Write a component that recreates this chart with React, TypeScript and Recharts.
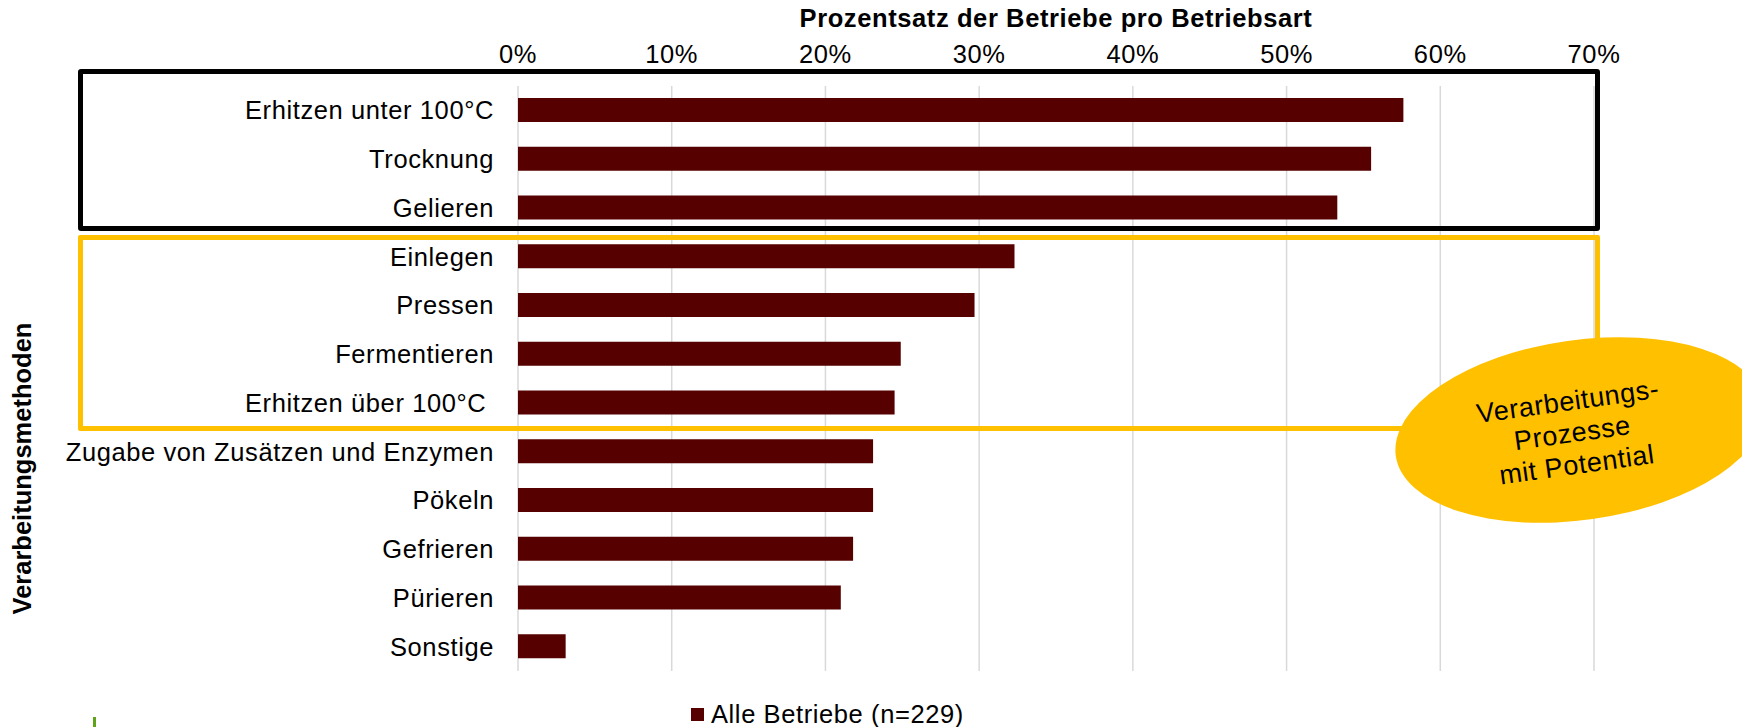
import React from 'react'
import { Bar, BarChart, CartesianGrid, Legend, XAxis, YAxis } from 'recharts'

// Verarbeitungsmethoden, von oben nach unten
const categories = [
  'Erhitzen unter 100°C',
  'Trocknung',
  'Gelieren',
  'Einlegen',
  'Pressen',
  'Fermentieren',
  'Erhitzen über 100°C\u00A0',
  'Zugabe von Zusätzen und Enzymen',
  'Pökeln',
  'Gefrieren',
  'Pürieren',
  'Sonstige',
]

// Prozentsatz aller Betriebe (n=229)
const alleBetriebe = [57.6, 55.5, 53.3, 32.3, 29.7, 24.9, 24.5, 23.1, 23.1, 21.8, 21.0, 3.1]

const xTicks = [0, 10, 20, 30, 40, 50, 60, 70]

const seriesName = 'Alle Betriebe (n=229)'
const xTitle = 'Prozentsatz der Betriebe pro Betriebsart'
const yTitle = 'Verarbeitungsmethoden'
const calloutLines = ['Verarbeitungs-', 'Prozesse', 'mit Potential']

const data = categories.map((name, i) => ({ name, value: alleBetriebe[i] }))

const FONT = '"Liberation Sans", Arial, sans-serif'
const FS = 25.5
const BAR_COLOR = '#560000'
const GOLD = '#FFC000'

const LegendContent = ({ payload }: any) => (
  <div style={{ display: 'flex', alignItems: 'center', fontFamily: FONT, fontSize: FS, letterSpacing: 0.6, color: '#000' }}>
    {(payload || []).map((entry: any) => (
      <div key={entry.value} style={{ display: 'flex', alignItems: 'center' }}>
        <span style={{ display: 'inline-block', width: 13, height: 13, background: BAR_COLOR, marginRight: 7 }} />
        <span style={{ lineHeight: '26px', whiteSpace: 'nowrap' }}>{entry.value}</span>
      </div>
    ))}
  </div>
)

const YTitle = ({ viewBox }: any) => {
  const x = viewBox.x + 31
  const y = viewBox.y + viewBox.height / 2 + 90
  return (
    <text
      x={x}
      y={y}
      transform={`rotate(-90 ${x} ${y})`}
      textAnchor="middle"
      fontFamily={FONT}
      fontSize={FS}
      fontWeight="bold"
      fill="#000"
      style={{ letterSpacing: '0px' }}
    >
      {yTitle}
    </text>
  )
}

export default function App() {
  return (
    <div style={{ position: 'absolute', left: 0, top: 0, width: 1742, height: 727, background: '#fff' }}>
      <style>{`.chart-wrap text { letter-spacing: 0.6px; }`}</style>
      <div className="chart-wrap" style={{ position: 'absolute', left: 0, top: 0 }}>
        <BarChart
          width={1742}
          height={727}
          data={data}
          layout="vertical"
          margin={{ top: 0, right: 148, bottom: 56, left: 0 }}
        >
          <CartesianGrid horizontal={false} stroke="#d9d9d9" strokeWidth={1.5} />
          <XAxis
            type="number"
            orientation="top"
            domain={[0, 70]}
            ticks={xTicks}
            tickFormatter={(v: number) => `${v}%`}
            axisLine={false}
            tickLine={false}
            tickSize={0}
            tickMargin={23}
            height={86}
            tick={{ fontSize: FS, fill: '#000', fontFamily: FONT }}
            label={{
              value: xTitle,
              position: 'insideTop',
              offset: 9,
              fontSize: FS,
              fontWeight: 'bold',
              fill: '#000',
              fontFamily: FONT,
            }}
          />
          <YAxis
            type="category"
            dataKey="name"
            width={518}
            interval={0}
            axisLine={false}
            tickLine={false}
            tickSize={0}
            tickMargin={24}
            tick={{ fontSize: FS, fill: '#000', fontFamily: FONT }}
            label={{ content: <YTitle /> } as any}
          />
          <Legend
            verticalAlign="middle"
            align="center"
            layout="horizontal"
            wrapperStyle={{ left: 691, top: 701, width: 'auto' }}
            content={<LegendContent />}
          />
          <Bar dataKey="value" name={seriesName} fill={BAR_COLOR} barSize={24} isAnimationActive={false} />
        </BarChart>
      </div>

      {/* Rahmen um die Gruppen */}
      <div style={{ position: 'absolute', left: 78, top: 69, width: 1522, height: 162, boxSizing: 'border-box', border: '5px solid #000', borderRadius: 3 }} />
      <div style={{ position: 'absolute', left: 78, top: 235, width: 1522, height: 196, boxSizing: 'border-box', border: `5px solid ${GOLD}`, borderRadius: 2 }} />

      {/* Callout */}
      <svg width={1742} height={727} style={{ position: 'absolute', left: 0, top: 0, pointerEvents: 'none' }}>
        <g transform="rotate(-8 1580 430)">
          <ellipse cx={1580} cy={430} rx={186} ry={90} fill={GOLD} />
          <text textAnchor="middle" fontFamily={FONT} fontSize={27} fill="#000" style={{ letterSpacing: '0.6px' }}>
            {calloutLines.map((line, i) => (
              <tspan key={line} x={1572} y={409 + i * 32}>
                {line}
              </tspan>
            ))}
          </text>
        </g>
      </svg>

      <div style={{ position: 'absolute', left: 93, top: 717, width: 3, height: 10, background: '#5ea319' }} />
    </div>
  )
}
